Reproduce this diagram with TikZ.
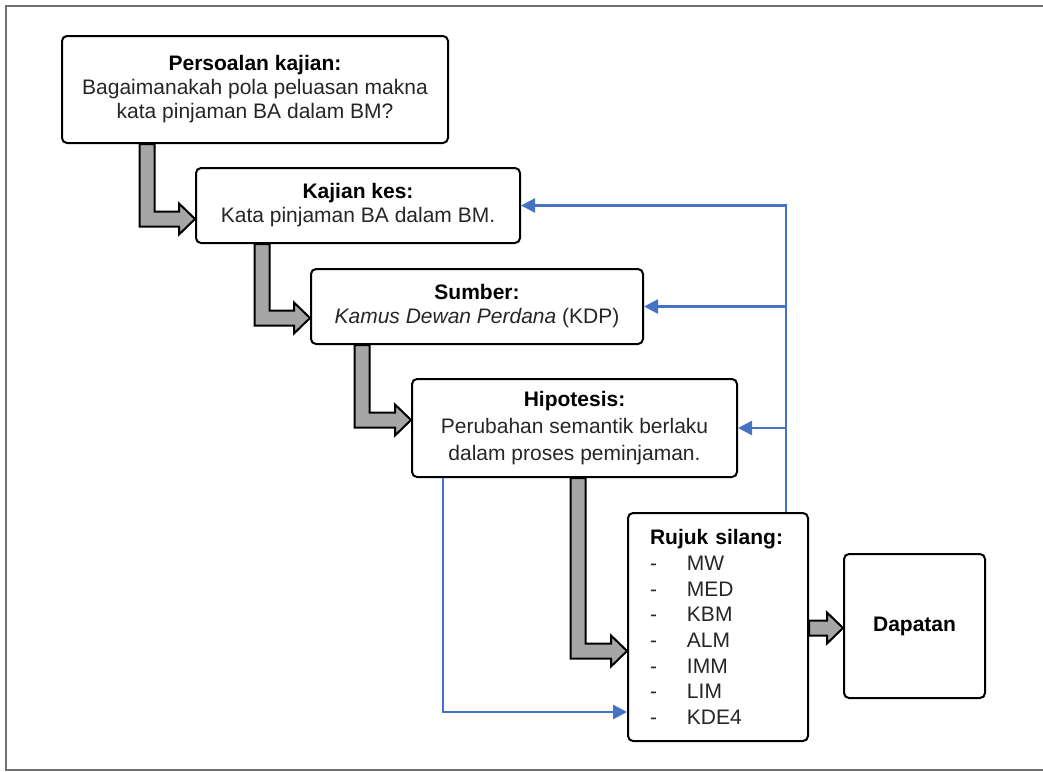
\documentclass[tikz,border=0pt]{standalone}
\usepackage{fontspec}
\setmainfont{Liberation Sans}
\usetikzlibrary{arrows.meta, calc}

\definecolor{linkblue}{HTML}{4472C4}
\definecolor{fatgray}{HTML}{A6A6A6}
\definecolor{framegray}{HTML}{707070}

\newcommand{\boxhead}[1]{{\color{black}\bfseries #1}}
% thick gray elbow arrow, from lower edge #1 down and right to tip #2
\newcommand{\fatelbow}[2]{%
  \filldraw[fill=fatgray, draw=black, line width=2pt]
    let \p1=(#1), \p2=(#2) in
    (\x1-7.5pt,\y1) -- (\x1-7.5pt,\y2-7.5pt) -- (\x2-16pt,\y2-7.5pt)
    -- (\x2-16pt,\y2-15.5pt) -- (\x2,\y2) -- (\x2-16pt,\y2+15.5pt)
    -- (\x2-16pt,\y2+7.5pt) -- (\x1+7.5pt,\y2+7.5pt) -- (\x1+7.5pt,\y1) -- cycle;}
% thick gray straight arrow
\newcommand{\fatstraight}[2]{%
  \filldraw[fill=fatgray, draw=black, line width=2pt]
    let \p1=(#1), \p2=(#2) in
    (\x1,\y2-7.5pt) -- (\x2-16pt,\y2-7.5pt) -- (\x2-16pt,\y2-15.5pt)
    -- (\x2,\y2) -- (\x2-16pt,\y2+15.5pt) -- (\x2-16pt,\y2+7.5pt)
    -- (\x1,\y2+7.5pt) -- cycle;}

\begin{document}
\begin{tikzpicture}[x=1pt, y=-1pt,
    box/.style={draw, line width=2pt, rounded corners=5pt, fill=white,
      align=center, inner sep=0pt, text=black!85,
      font=\fontsize{21}{24}\selectfont},
    link/.style={draw=linkblue, line width=2.5pt,
      -{Triangle[length=14pt, width=14pt]}}]
\useasboundingbox (0,0) rectangle (1043,771);
% outer frame
\draw[framegray, line width=2pt] (6,6) rectangle (1070,770);

% steps
\node[box, minimum width=386, minimum height=107] (persoalan) at (255,89.5)
  {\boxhead{Persoalan kajian:}\\ Bagaimanakah pola peluasan makna\\ kata pinjaman BA dalam BM?};
\node[box, minimum width=324, minimum height=75] (kajian) at (358,205.5)
  {\boxhead{Kajian kes:}\\ Kata pinjaman BA dalam BM.};
\node[box, minimum width=332, minimum height=75] (sumber) at (477,306.5)
  {\boxhead{Sumber:}\\ \textit{Kamus Dewan Perdana} (KDP)};
\node[box, minimum width=325, minimum height=98, font=\fontsize{21}{27}\selectfont] (hipotesis) at (574.5,428)
  {\boxhead{Hipotesis:}\\ Perubahan semantik berlaku\\ dalam proses peminjaman.};
\node[box, minimum height=228, text width=136pt, inner xsep=22pt, align=left,
  font=\fontsize{21}{25.7}\selectfont] (rujuk) at (718,627)
  {\boxhead{Rujuk silang:}\\
   \makebox[37pt][l]{-}MW\\ \makebox[37pt][l]{-}MED\\ \makebox[37pt][l]{-}KBM\\
   \makebox[37pt][l]{-}ALM\\ \makebox[37pt][l]{-}IMM\\ \makebox[37pt][l]{-}LIM\\
   \makebox[37pt][l]{-}KDE4};
\node[box, minimum width=141, minimum height=144] (dapatan) at (914.5,626)
  {\boxhead{Dapatan}};

% main flow
\fatelbow{$(persoalan.south)+(-108,0)$}{$(kajian.west)+(0,13.5)$}
\fatelbow{$(kajian.south)+(-96,0)$}{$(sumber.west)+(0,11.5)$}
\fatelbow{$(sumber.south)+(-115,0)$}{$(hipotesis.west)+(0,-8)$}
\fatelbow{$(hipotesis.south)+(3.5,0)$}{$(rujuk.west)+(0,24)$}
\fatstraight{rujuk.east}{$(dapatan.west)+(0,2)$}

% feedback links
\coordinate (bus) at (786,0);
\coordinate (drop) at (443,0);
\draw[link] (rujuk.north -| bus) |- (kajian.east);
\foreach \n in {sumber, hipotesis}
  \draw[link] (bus |- \n.east) -- (\n.east);
\draw[link] (hipotesis.south -| drop) |- ($(rujuk.south west)+(0,-30)$);
\end{tikzpicture}
\end{document}
